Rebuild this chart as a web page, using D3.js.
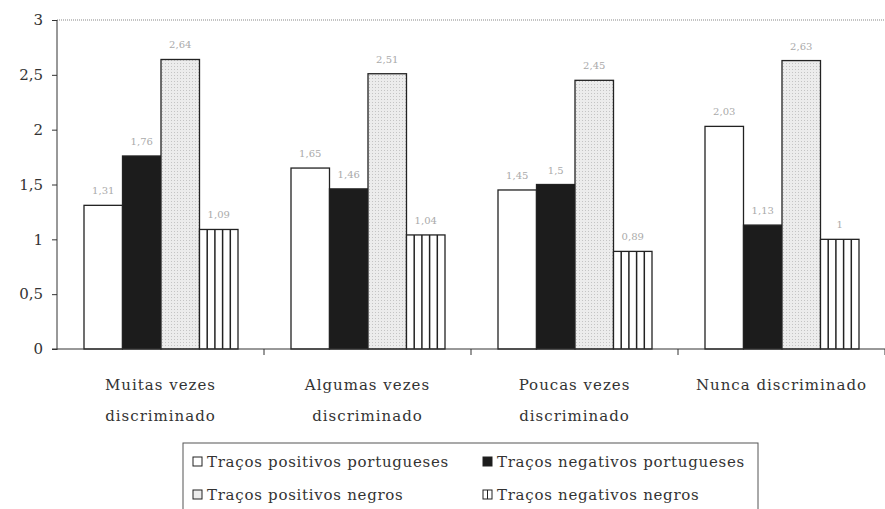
<!DOCTYPE html>
<html><head><meta charset="utf-8">
<script src="https://cdn.jsdelivr.net/npm/d3@7"></script>
<style>body{margin:0;background:#fff}svg{display:block}</style>
</head><body>
<svg id="c" width="885" height="509"></svg>
<script>
const categories = [["Muitas vezes","discriminado"],["Algumas vezes","discriminado"],["Poucas vezes","discriminado"],["Nunca discriminado"]];
const seriesNames = ["Traços positivos portugueses","Traços negativos portugueses","Traços positivos negros","Traços negativos negros"];
const posPT = [1.31, 1.65, 1.45, 2.03];
const negPT = [1.76, 1.46, 1.50, 1.13];
const posNG = [2.64, 2.51, 2.45, 2.63];
const negNG = [1.09, 1.04, 0.89, 1];
const series = [posPT, negPT, posNG, negNG];
const yTicks = [0, 0.5, 1, 1.5, 2, 2.5, 3];

const svg = d3.select("#c");
const font = "'DejaVu Serif', 'Liberation Serif', serif";
const defs = svg.append("defs");
const dots = defs.append("pattern").attr("id","dots").attr("patternUnits","userSpaceOnUse").attr("width",3).attr("height",3);
dots.append("rect").attr("width",3).attr("height",3).attr("fill","#ececec");
dots.append("rect").attr("width",1).attr("height",1).attr("fill","#c4c4c4");
const fills = ["#fff","#1c1c1c","url(#dots)","#fff"];

const x0 = d3.scaleBand().domain(d3.range(categories.length)).range([57, 885]);
const x1 = d3.scaleBand().domain(d3.range(series.length)).range([27, 181]);
const y = d3.scaleLinear().domain([0, 3]).range([349, 20]);

svg.append("line").attr("x1",57).attr("x2",885).attr("y1",y(3)).attr("y2",y(3)).attr("stroke","#888").attr("stroke-width",1.2).attr("stroke-dasharray","1,1");

categories.forEach((c, gi) => {
  const g = svg.append("g").attr("transform",`translate(${x0(gi)},0)`);
  series.forEach((s, si) => {
    const bx = x1(si), bw = x1.bandwidth();
    g.append("rect").attr("x",bx).attr("y",y(s[gi])).attr("width",bw).attr("height",y(0)-y(s[gi]))
      .attr("fill", fills[si]).attr("stroke","#222").attr("stroke-width",1.3);
    if (si===3) {
      d3.range(1,5).forEach(k => {
        g.append("line").attr("x1",bx+k*bw/5).attr("x2",bx+k*bw/5).attr("y1",y(s[gi])).attr("y2",y(0)).attr("stroke","#222").attr("stroke-width",1.5);
      });
    }
    g.append("text").attr("x",bx+bw/2).attr("y",y(s[gi])-11).attr("text-anchor","middle")
      .style("font-family",font).attr("font-size",10).attr("fill","#aaa")
      .text(String(s[gi]).replace(".",","));
  });
});

const yAxis = d3.axisLeft(y).tickValues(yTicks).tickSize(5).tickFormat(d => String(d).replace(".",","));
const ya = svg.append("g").attr("transform","translate(57,0)").call(yAxis);
ya.attr("font-family",null);
ya.select(".domain").attr("stroke","#333").attr("d","M0,20V350");
ya.selectAll(".tick line").attr("stroke","#333");
ya.selectAll(".tick text").style("font-family",font).attr("font-size",15).attr("fill","#333").attr("x",-14);

function fit(sel, target) {
  const len = sel.node().getComputedTextLength();
  const n = sel.text().length;
  return (target - len) / n;
}

svg.append("line").attr("x1",52).attr("x2",885).attr("y1",349).attr("y2",349).attr("stroke","#333");
const catTexts = [];
categories.forEach((c, gi) => {
  svg.append("line").attr("x1",x0(gi)+x0.bandwidth()).attr("x2",x0(gi)+x0.bandwidth()).attr("y1",349).attr("y2",355).attr("stroke","#333");
  c.forEach((line, li) => {
    catTexts.push(svg.append("text").attr("x",x0(gi)+x0.bandwidth()/2).attr("y",390+li*31).attr("text-anchor","middle")
      .style("font-family",font).attr("font-size",15).attr("fill","#333").text(line));
  });
});
const catLS = fit(catTexts[0], 111);
catTexts.forEach(t => t.attr("letter-spacing", catLS));

const lg = svg.append("g");
lg.append("rect").attr("x",183).attr("y",443).attr("width",575).attr("height",70).attr("fill","#fff").attr("stroke","#555");
const lpos = [[193,467],[483,467],[193,500],[483,500]];
const legTexts = [];
seriesNames.forEach((n, i) => {
  const [lx, ly] = lpos[i];
  lg.append("rect").attr("x",lx).attr("y",ly-10).attr("width",9).attr("height",9)
    .attr("fill", i===1?"#1c1c1c": i===2?"#ececec":"#fff").attr("stroke","#222");
  if (i===3) lg.append("line").attr("x1",lx+4.5).attr("x2",lx+4.5).attr("y1",ly-10).attr("y2",ly-1).attr("stroke","#222");
  legTexts.push(lg.append("text").attr("x",lx+14).attr("y",ly).style("font-family",font).attr("font-size",15).attr("fill","#333").text(n));
});
const legLS = fit(legTexts[0], 242);
legTexts.forEach(t => t.attr("letter-spacing", legLS));
</script>
</body></html>
